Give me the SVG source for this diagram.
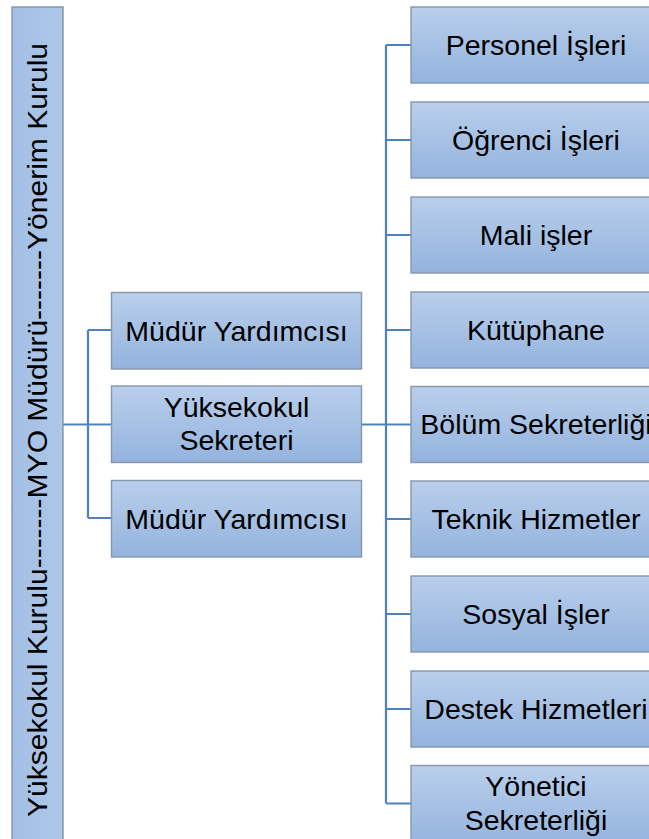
<svg xmlns="http://www.w3.org/2000/svg" width="649" height="839" viewBox="0 0 649 839">
<defs>
<linearGradient id="g" x1="0" y1="0" x2="0" y2="1">
<stop offset="0" stop-color="#b9cfeb"/>
<stop offset="1" stop-color="#94b3de"/>
</linearGradient>
<linearGradient id="gb" x1="0" y1="0" x2="1" y2="0">
<stop offset="0" stop-color="#a3bfe5"/>
<stop offset="1" stop-color="#aec7e8"/>
</linearGradient>
</defs>
<style>
.box{fill:url(#g);stroke:#8696ab;stroke-width:1.4}
.t{font-family:"Liberation Sans",Arial,sans-serif;font-size:28.5px;fill:#000;text-anchor:middle}
.c{fill:none;stroke:#4f81bd;stroke-width:2.2}
</style>
<rect width="649" height="839" fill="#fff"/>
<g id="connectors">
<path class="c" d="M63 424.5H111M88 330V518M88 330H111M88 518H111"/>
<path class="c" d="M362 424.5H411M386 45V803.5M386 45H411M386 140H411M386 235H411M386 330H411M386 424.5H411M386 519H411M386 614H411M386 709H411M386 803.5H411"/>
</g>
<g id="kurul">
<rect x="12" y="7" width="51" height="840" fill="url(#gb)" stroke="#8193a8" stroke-width="1.4"/>
<text class="t" transform="translate(47,430) rotate(-90)" x="0" y="0" textLength="774" lengthAdjust="spacingAndGlyphs">Yüksekokul Kurulu-------MYO Müdürü-------Yönerim Kurulu</text>
</g>
<g id="mudur-yrd-1"><rect class="box" x="111.5" y="292.5" width="250" height="76.5"/><text class="t" x="236.5" y="340.5">Müdür Yardımcısı</text></g>
<g id="yo-sekreteri"><rect class="box" x="111.5" y="386" width="250" height="76.5"/><text class="t" x="236.5" y="416.5">Yüksekokul</text><text class="t" x="236.5" y="450">Sekreteri</text></g>
<g id="mudur-yrd-2"><rect class="box" x="111.5" y="480.5" width="250" height="76.5"/><text class="t" x="236.5" y="529">Müdür Yardımcısı</text></g>
<g id="personel"><rect class="box" x="411" y="7" width="250" height="76"/><text class="t" x="536" y="54.5">Personel İşleri</text></g>
<g id="ogrenci"><rect class="box" x="411" y="102" width="250" height="76"/><text class="t" x="536" y="149.5">Öğrenci İşleri</text></g>
<g id="mali"><rect class="box" x="411" y="197" width="250" height="76"/><text class="t" x="536" y="244.5">Mali işler</text></g>
<g id="kutuphane"><rect class="box" x="411" y="292" width="250" height="76"/><text class="t" x="536" y="339.5">Kütüphane</text></g>
<g id="bolum"><rect class="box" x="411" y="386.5" width="250" height="76"/><text class="t" x="536" y="434">Bölüm Sekreterliği</text></g>
<g id="teknik"><rect class="box" x="411" y="481" width="250" height="76"/><text class="t" x="536" y="528.5">Teknik Hizmetler</text></g>
<g id="sosyal"><rect class="box" x="411" y="576" width="250" height="76"/><text class="t" x="536" y="623.5">Sosyal İşler</text></g>
<g id="destek"><rect class="box" x="411" y="671" width="250" height="76"/><text class="t" x="536" y="718.5">Destek Hizmetleri</text></g>
<g id="yonetici"><rect class="box" x="411" y="765.5" width="250" height="80"/><text class="t" x="536" y="796">Yönetici</text><text class="t" x="536" y="829.5">Sekreterliği</text></g>
</svg>
